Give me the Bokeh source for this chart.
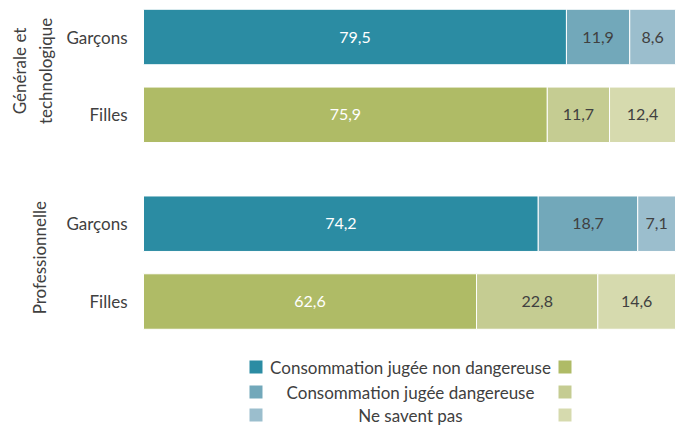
from bokeh.plotting import figure
from bokeh.models import ColumnDataSource, Range1d
from bokeh.core.properties import value
from bokeh.embed import file_html
from bokeh.resources import INLINE
import math

# ---- data ----
groups = ["Générale et\ntechnologique", "Professionnelle"]
sexes = ["Garçons", "Filles"]
non_dangereuse = [79.5, 75.9, 74.2, 62.6]
dangereuse = [11.9, 11.7, 18.7, 22.8]
ne_savent_pas = [8.6, 12.4, 7.1, 14.6]
series_labels = ["Consommation jugée non dangereuse",
                 "Consommation jugée dangereuse",
                 "Ne savent pas"]

# ---- styles ----
FONT = "Lato"
TXT = "#404040"
boys_colors = ["#2B8CA3", "#72A8BA", "#9BBECD"]
girls_colors = ["#AFBB66", "#C5CC92", "#D6DAAE"]
label_colors = ["white", TXT, TXT]

# layout constants (pixels, figure coordinates)
PX_X = 5.32          # px per percent
LEFT = 143           # x of 0 %
W, H = 679, 426
UNIT = 77.8          # px per y unit
TOP_CENTER = 36.5    # y of first bar centre
GROUP_STEP = 2.4
BAR_H = 0.713

x_start = -LEFT / PX_X
x_end = (W - LEFT) / PX_X
y_top = -TOP_CENTER / UNIT
y_bot = (H - TOP_CENTER) / UNIT

p = figure(width=W, height=H, output_backend="svg", toolbar_location=None,
           x_range=Range1d(x_start, x_end), y_range=Range1d(y_bot, y_top),
           x_axis_type=None, y_axis_type=None, min_border=0,
           outline_line_color=None, background_fill_color="white",
           border_fill_color="white")
p.grid.visible = False

pos, cat_labels, is_boy = [], [], []
for g in range(len(groups)):
    for i, s in enumerate(sexes):
        pos.append(g * GROUP_STEP + i)
        cat_labels.append(s)
        is_boy.append(i == 0)

series = [non_dangereuse, dangereuse, ne_savent_pas]
left = [0.0] * len(pos)
for k, vals in enumerate(series):
    right = [l + v for l, v in zip(left, vals)]
    colors = [boys_colors[k] if b else girls_colors[k] for b in is_boy]
    src = ColumnDataSource(dict(y=pos, left=left, right=right, color=colors,
                                mid=[(l + r) / 2 for l, r in zip(left, right)],
                                lab=[f"{v:.1f}".replace(".", ",") for v in vals]))
    p.hbar(y="y", left="left", right="right", height=BAR_H, fill_color="color",
           line_color="white", line_width=1, source=src)
    p.text(x="mid", y="y", text="lab", source=src, text_align="center",
           text_baseline="middle", text_color=label_colors[k],
           text_font=value(FONT), text_font_size="16px")
    left = right

# category labels
p.text(x=[0] * len(pos), y=pos, text=cat_labels, x_offset=-16,
       text_align="right", text_baseline="middle", text_color=TXT,
       text_font=value(FONT), text_font_size="17px")

# group labels (rotated)
gcent = [g * GROUP_STEP + 0.5 for g in range(len(groups))]
g_xoff = [-111, -104]
for gc, gl, xo in zip(gcent, groups, g_xoff):
    p.text(x=[0], y=[gc], text=[gl], x_offset=xo, y_offset=-5,
           angle=math.pi / 2, text_align="center", text_baseline="middle",
           text_color=TXT, text_font=value(FONT), text_font_size="17px",
           text_line_height=1.25)

# legend (drawn manually: two swatches per row, centred text)
leg_rows = [366.5, 391.5, 414.5]
leg_y = [(py - TOP_CENTER) / UNIT for py in leg_rows]
lx_left = (255.5 - LEFT) / PX_X
lx_right = (564.5 - LEFT) / PX_X
lx_text = (410 - LEFT) / PX_X
p.scatter(x=[lx_left] * 3, y=leg_y, marker="square", size=13,
          fill_color=boys_colors, line_color=None)
p.scatter(x=[lx_right] * 3, y=leg_y, marker="square", size=13,
          fill_color=girls_colors, line_color=None)
p.text(x=[lx_text] * 3, y=leg_y, text=series_labels, text_align="center",
       text_baseline="middle", text_color=TXT, text_font=value(FONT),
       text_font_size="17px")

open("out.html", "w").write(file_html(p, INLINE))
